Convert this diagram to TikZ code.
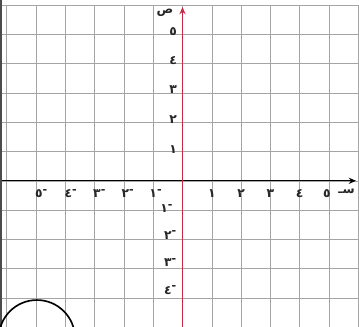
\documentclass[tikz,border=0pt]{standalone}
\usepackage{fontspec}
\newfontfamily\arfont[Script=Arabic]{DejaVu Sans}
\usetikzlibrary{arrows.meta}
\definecolor{axisred}{RGB}{200,40,70}
\definecolor{gridgray}{RGB}{165,165,165}
\newcommand{\negl}[1]{#1\raisebox{0.6ex}{\scalebox{0.9}{-}}}
\tikzset{
  gridline/.style={gridgray, line width=0.5pt},
  lbl/.style={font=\arfont\fontsize{12}{13}\selectfont\bfseries, inner sep=0pt, text=black!85},
  xaxis/.style={black, line width=1.1pt, -{Stealth[length=7pt,width=6pt]}},
  yaxis/.style={axisred, line width=1.1pt, -{Stealth[length=7pt,width=6pt]}},
}
\begin{document}
\begin{tikzpicture}
\useasboundingbox (-6.229,-4.99) rectangle (6.024,6.171);
\clip (-6.229,-4.99) rectangle (6.024,6.171);
% grid
\foreach \x in {-6,...,6} \draw[gridline] (\x,-5) -- (\x,6);
\foreach \y in {-5,...,6} \draw[gridline] (-6.229,\y) -- (6.024,\y);
% left dark edge
\fill[black!70] (-6.229,-4.99) rectangle (-6.16,6.171);
% axes
\coordinate (xs) at (-6.16,0);
\coordinate (xe) at (5.92,0);
\coordinate (ys) at (0,-4.99);
\coordinate (ye) at (0,5.93);
\draw[xaxis] (xs) -- (xe);
\draw[yaxis] (ys) -- (ye);
% x labels
\node[lbl] (x1) at (1,-0.42) {١};
\node[lbl] (x2) at (2,-0.42) {٢};
\node[lbl] (x3) at (3,-0.42) {٣};
\node[lbl] (x4) at (4,-0.42) {٤};
\node[lbl] (x5) at (4.93,-0.42) {٥};
\node[lbl] (xs1) at (5.6,-0.36) {سـ};
\node[lbl] (xm1) at (-0.92,-0.42) {\negl{١}};
\node[lbl] (xm2) at (-1.87,-0.42) {\negl{٢}};
\node[lbl] (xm3) at (-2.84,-0.42) {\negl{٣}};
\node[lbl] (xm4) at (-3.82,-0.42) {\negl{٤}};
\node[lbl] (xm5) at (-4.82,-0.42) {\negl{٥}};
% y labels
\node[lbl] (y1) at (-0.32,1.05) {١};
\node[lbl] (y2) at (-0.32,2.1) {٢};
\node[lbl] (y3) at (-0.32,3.1) {٣};
\node[lbl] (y4) at (-0.32,4.1) {٤};
\node[lbl] (y5) at (-0.32,5.1) {٥};
\node[lbl] (ys1) at (-0.6,5.75) {ص};
\node[lbl] (ym1) at (-0.55,-0.93) {\negl{١}};
\node[lbl] (ym2) at (-0.42,-1.85) {\negl{٢}};
\node[lbl] (ym3) at (-0.42,-2.8) {\negl{٣}};
\node[lbl] (ym4) at (-0.42,-3.73) {\negl{٤}};
% circle
\draw[black, line width=1.6pt] (-4.97,-5.37) circle (1.30);
\end{tikzpicture}
\end{document}
